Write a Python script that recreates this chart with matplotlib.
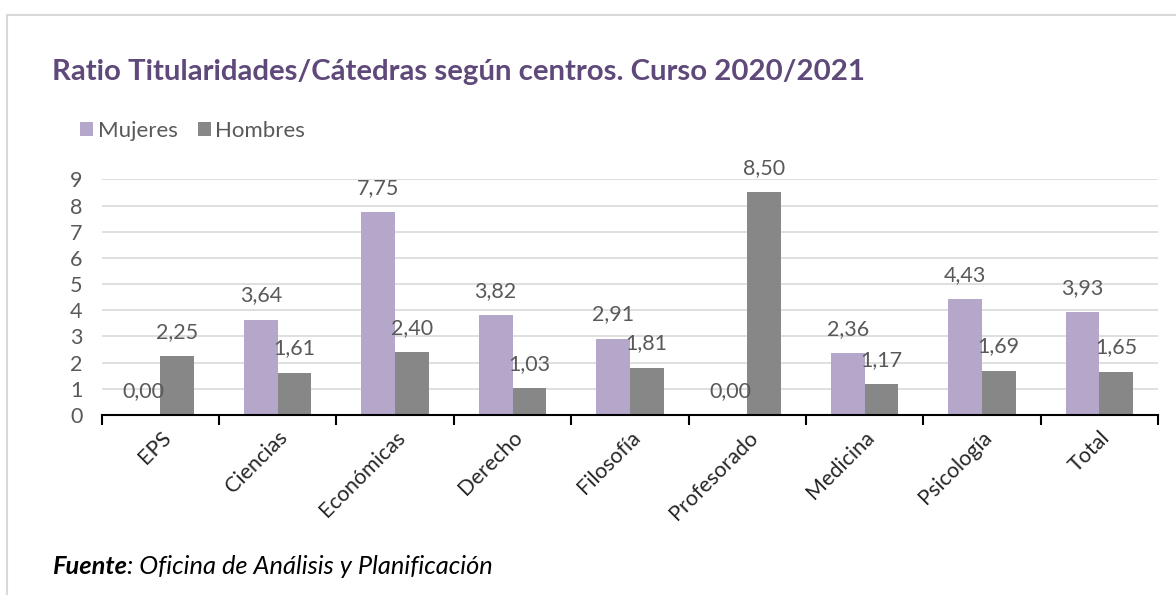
import numpy as np
import matplotlib
matplotlib.use("Agg")
import matplotlib.pyplot as plt
from matplotlib.lines import Line2D

plt.rcParams['font.family'] = ['Lato', 'DejaVu Sans']

centros = ["EPS", "Ciencias", "Económicas", "Derecho", "Filosofía",
           "Profesorado", "Medicina", "Psicología", "Total"]
mujeres = [0.00, 3.64, 7.75, 3.82, 2.91, 0.00, 2.36, 4.43, 3.93]
hombres = [2.25, 1.61, 2.40, 1.03, 1.81, 8.50, 1.17, 1.69, 1.65]

col_muj = "#B4A7CA"
col_hom = "#878787"
col_txt = "#595959"

fig = plt.figure(figsize=(11.76, 5.95), dpi=100)
ax = fig.add_axes([0.0865, 0.3025, 0.8982, 0.396])

x = np.arange(len(centros))
w = 0.287
b1 = ax.bar(x - w / 2, mujeres, w, color=col_muj, label="Mujeres", zorder=2)
b2 = ax.bar(x + w / 2, hombres, w, color=col_hom, label="Hombres", zorder=2)

for bars in (b1, b2):
    for r in bars:
        h = r.get_height()
        ax.annotate(f"{h:.2f}".replace(".", ","),
                    (r.get_x() + r.get_width() / 2, h),
                    xytext=(0, 17.5), textcoords="offset points",
                    ha="center", va="center", fontsize=15.5, color=col_txt, zorder=3)

ax.set_xlim(-0.5, len(centros) - 0.5)
ax.set_ylim(0, 9)
ax.set_yticks(range(0, 10))
ax.tick_params(axis="y", length=0, labelsize=15.5, labelcolor=col_txt, pad=14)
ax.yaxis.grid(True, color="#D9D9D9", linewidth=1.2, zorder=0)
ax.set_axisbelow(True)

# etiquetas en el centro, marcas entre categorias
ax.set_xticks(x)
ax.set_xticklabels(centros, rotation=45, ha="right", rotation_mode="anchor",
                   fontsize=15.5, color="#262626")
ax.tick_params(axis="x", which="major", length=0, pad=9)
ax.set_xticks(np.arange(-0.5, len(centros)), minor=True)
ax.tick_params(axis="x", which="minor", length=7, width=1.5, color="black", direction="out")

for s in ("top", "right", "left"):
    ax.spines[s].set_visible(False)
ax.spines["bottom"].set_linewidth(1.5)
ax.spines["bottom"].set_color("black")

fig.text(52 / 1176, 1 - 72 / 595, "Ratio Titularidades/Cátedras según centros. Curso 2020/2021",
         fontsize=21.2, fontweight="bold", color="#5F497A", va="center", ha="left")

fig.legend(handles=[b1, b2], labels=["Mujeres", "Hombres"], loc="center left",
           bbox_to_anchor=(60 / 1176, 1 - 131 / 595), ncol=2, frameon=False,
           fontsize=16, handlelength=0.6, handleheight=0.6, handletextpad=0.2,
           columnspacing=0.9, labelcolor=col_txt)

t1 = fig.text(52 / 1176, 1 - 567 / 595, "Fuente", fontsize=18.3, fontweight="bold",
              style="italic", va="center", ha="left", color="black")
fig.canvas.draw()
bb = t1.get_window_extent()
fig.text((bb.x1) / 1176, 1 - 567 / 595, ": Oficina de Análisis y Planificación",
         fontsize=18.3, style="italic", va="center", ha="left", color="black")

# marco del grafico
fig.add_artist(Line2D([7 / 1176, 1], [1 - 15 / 595, 1 - 15 / 595], color="#D9D9D9",
                      linewidth=1.5, transform=fig.transFigure))
fig.add_artist(Line2D([7 / 1176, 7 / 1176], [0, 1 - 15 / 595], color="#D9D9D9",
                      linewidth=1.5, transform=fig.transFigure))

fig.savefig("out.png", dpi=100)
